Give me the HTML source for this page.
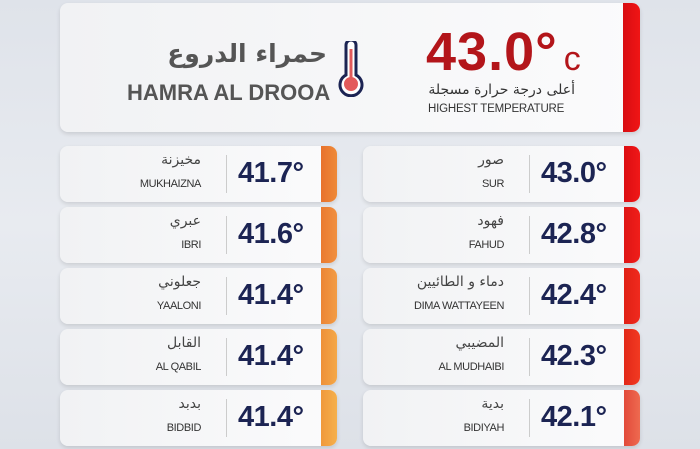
<!DOCTYPE html>
<html><head><meta charset="utf-8"><style>
*{margin:0;padding:0;box-sizing:border-box}
body{width:700px;height:449px;overflow:hidden;background:linear-gradient(180deg,#dfe3ea,#e8ebf0 50%,#dde1e8);font-family:"Liberation Sans","Noto Sans CJK SC",sans-serif;position:relative}
.card{position:absolute;background:linear-gradient(90deg,#f1f2f4,#fbfbfc);border-radius:8px;box-shadow:0 2px 4px rgba(0,0,0,.12);overflow:hidden}
.bar{position:absolute;right:0;top:0;bottom:0;width:16px}
.ar{position:absolute;font-size:14px;color:#444;text-align:right;font-family:"DejaVu Sans",sans-serif}
.en{position:absolute;font-size:11px;color:#333;text-align:right;letter-spacing:-.4px;font-family:"Liberation Sans Narrow","Liberation Sans",sans-serif}
.div{position:absolute;width:1px;background:#ccc;top:9px;bottom:9px}
.num{position:absolute;font-size:29px;font-weight:bold;color:#1c2453;top:11px;letter-spacing:-.5px}
</style></head><body>
<div class="card" style="left:60px;top:3px;width:580px;height:129px">
 <div class="bar" style="width:17px;background:linear-gradient(90deg,#d80d12,#f01515)"></div>
 <div class="ar" style="right:313px;top:36px;font-size:25px;font-weight:bold;color:#555;width:200px">حمراء الدروع</div>
 <div style="position:absolute;left:67px;top:77px;font-size:22px;font-weight:bold;color:#555">HAMRA AL DROOA</div>
 <svg style="position:absolute;left:275px;top:38px" width="32" height="56" viewBox="0 0 32 56"><path d="M11 4a5 5 0 0 1 10 0v30a11 11 0 1 1-10 0z" fill="#fff" stroke="#1c2453" stroke-width="3"/><rect x="14.5" y="8" width="3" height="30" fill="#e35b5b"/><circle cx="16" cy="43" r="7" fill="#e35b5b"/></svg>
 <div style="position:absolute;left:366px;top:18px;font-size:54px;font-weight:bold;color:#b3151a;letter-spacing:1px">43.0°<span style="font-size:34px;font-weight:normal;margin-left:6px">c</span></div>
 <div class="ar" style="right:65px;top:79px;font-size:14px;color:#333;width:200px">أعلى درجة حرارة مسجلة</div>
 <div style="position:absolute;left:368px;top:100px;font-size:11.5px;color:#333;letter-spacing:-.2px">HIGHEST TEMPERATURE</div>
</div>
<div id="rows"></div>
<script>
const L=[["مخيزنة","MUKHAIZNA","41.7°","#e8712c,#ee8a38"],["عبري","IBRI","41.6°","#ea7a30,#f09040"],["جعلوني","YAALONI","41.4°","#ec8535,#f29c45"],["القابل","AL QABIL","41.4°","#ee9038,#f4a848"],["بدبد","BIDBID","41.4°","#f0993c,#f5b04c"]];
const R=[["صور","SUR","43.0°","#dc0d12,#f01818"],["فهود","FAHUD","42.8°","#de1515,#f01e1a"],["دماء و الطائيين","DIMA WATTAYEEN","42.4°","#e02015,#f02a1e"],["المضيبي","AL MUDHAIBI","42.3°","#e22818,#f23a22"],["بدية","BIDIYAH","42.1°","#e24a3a,#ee6a50"]];
let h="";
[[L,60],[R,363]].forEach(([a,x])=>a.forEach((r,i)=>{const y=146+i*61;
h+=`<div class="card" style="left:${x}px;top:${y}px;width:277px;height:56px"><div class="bar" style="background:linear-gradient(90deg,${r[3]})"></div><div class="ar" style="right:136px;top:6px;width:150px">${r[0]}</div><div class="en" style="right:136px;top:32px;width:150px">${r[1]}</div><div class="div" style="left:166px"></div><div class="num" style="left:178px">${r[2]}</div></div>`}));
document.getElementById("rows").innerHTML=h;
</script>
</body></html>
